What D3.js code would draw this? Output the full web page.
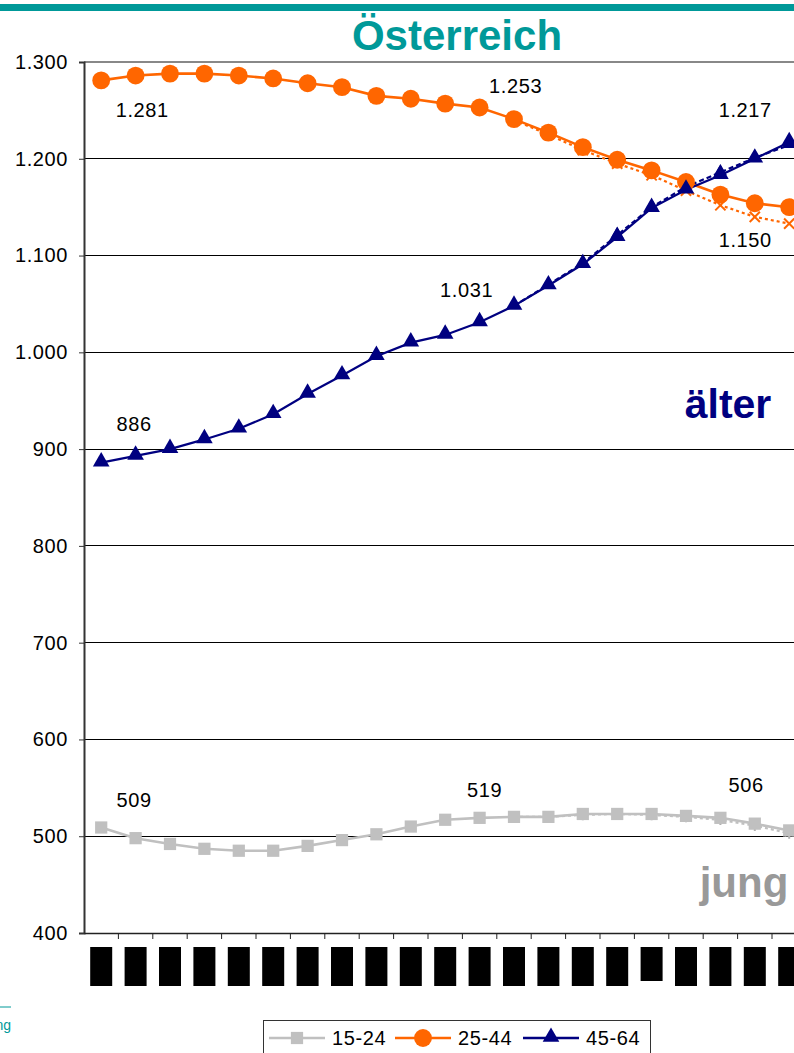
<!DOCTYPE html>
<html>
<head>
<meta charset="utf-8">
<script src="https://cdn.jsdelivr.net/npm/d3@7"></script>
<style>
  body { margin: 0; background: #fff; }
  svg { display: block; }
  text { font-family: "Liberation Sans", Arial, sans-serif; }
</style>
</head>
<body>
<svg id="chart" width="794" height="1053"></svg>
<script>
// Erwerbsbevölkerung nach Altersgruppen (in 1.000)
const years = ["2001","2002","2003","2004","2005","2006","2007","2008","2009","2010",
               "2011","2012","2013","2014","2015","2016","2017","2018","2019","2020","2021"];

const age15to24 = [509,498,492,487,485,485,490,496,502,510,517,519,520,520,523,523,523,521,519,513,506];
const age25to44 = [1281,1286,1288,1288,1286,1283,1278,1274,1265,1262,1257,1253,1241,1227,1212,1199,1188,1176,1163,1154,1150];
const age45to64 = [886,893,900,910,921,936,957,976,996,1010,1018,1031,1048,1069,1091,1119,1149,1168,1183,1200,1217];

// Variante (ab 2013)
const variantFrom = "2013";
const var15to24 = [520,520,522,523,522,520,517,511,503];
const var25to44 = [1240,1225,1209,1195,1183,1167,1152,1140,1133];
const var45to64 = [1048,1070,1092,1121,1150,1171,1186,1201,1214];

const yTicks = [400,500,600,700,800,900,1000,1100,1200,1300];
const seriesNames = ["15-24","25-44","45-64"];

// Beschriftete Werte: Reihe, Jahr
const labelled = [
  { s: 1, year: "2001", dx: 41,  dy: 37 },
  { s: 1, year: "2012", dx: 36,  dy: -14 },
  { s: 1, year: "2021", dx: -44, dy: 40 },
  { s: 2, year: "2001", dx: 33,  dy: -32 },
  { s: 2, year: "2012", dx: -13, dy: -25 },
  { s: 2, year: "2021", dx: -44, dy: -25 },
  { s: 0, year: "2001", dx: 33,  dy: -21 },
  { s: 0, year: "2012", dx: 5,   dy: -21 },
  { s: 0, year: "2021", dx: -43, dy: -38 }
];

const fmt = d3.formatLocale({ decimal: ",", thousands: ".", grouping: [3], currency: ["", " €"] }).format(",d");

const svg = d3.select("#chart");
const W = 794;

const x = d3.scaleBand().domain(years).range([84, 84 + 21 * 34.4]);
const y = d3.scaleLinear().domain([400, 1300]).range([933, 62]);
const cx = d => x(d) + x.bandwidth() / 2;

const teal = "#009999";
const colors = ["#c0c0c0", "#ff6600", "#000080"];

// Kopfzeile
svg.append("rect").attr("x", 0).attr("y", 4).attr("width", W).attr("height", 7).attr("fill", teal);
svg.append("text").attr("x", 457).attr("y", 50).attr("text-anchor", "middle")
  .attr("font-size", 42).attr("font-weight", "bold").attr("fill", teal).text("Österreich");

// Gitternetz
svg.append("g").selectAll("line").data(yTicks.filter(v => v > 400 && v < 1300)).join("line")
  .attr("x1", 84).attr("x2", W).attr("y1", d => y(d)).attr("y2", d => y(d))
  .attr("stroke", "#000").attr("stroke-width", 1).attr("shape-rendering", "crispEdges");
svg.append("line").attr("x1", 84).attr("x2", W).attr("y1", y(1300)).attr("y2", y(1300))
  .attr("stroke", "#888").attr("stroke-width", 2);

// Y-Achse
const yAxis = svg.append("g").attr("transform", "translate(84,0)")
  .call(d3.axisLeft(y).tickValues(yTicks).tickFormat(fmt).tickSize(5).tickPadding(11));
yAxis.select(".domain").attr("stroke", "#333").attr("stroke-width", 2);
yAxis.selectAll(".tick line").attr("stroke", "#333");
yAxis.selectAll("text").attr("font-size", 20).attr("fill", "#000")
  .attr("font-family", "Liberation Sans, Arial, sans-serif").attr("letter-spacing", 0.6);

// X-Achse
const xAxis = svg.append("g").attr("transform", "translate(0,933)")
  .call(d3.axisBottom(x).tickSize(0).tickFormat(""));
xAxis.select(".domain").attr("stroke", "#222").attr("stroke-width", 1.5);
svg.append("g").selectAll("line").data(years.slice(1)).join("line")
  .attr("x1", d => x(d)).attr("x2", d => x(d)).attr("y1", 933).attr("y2", 939)
  .attr("stroke", "#222").attr("stroke-width", 1);
// Jahresbeschriftungen (geschwärzt)
const xl = svg.append("g").selectAll("g").data(years).join("g")
  .attr("transform", d => `translate(${cx(d)},947)`);
xl.append("rect").attr("x", -11).attr("y", 0).attr("width", 22)
  .attr("height", (d, i) => i === 16 ? 34 : 39).attr("fill", "#000");

// Linien
const line = d3.line().x(d => cx(d.year)).y(d => y(d.v));
const primary = [age15to24, age25to44, age45to64].map(a => a.map((v, i) => ({ year: years[i], v })));
const vStart = years.indexOf(variantFrom);
const variant = [var15to24, var25to44, var45to64].map(a => a.map((v, i) => ({ year: years[vStart + i], v })));

// Variante gestrichelt, darunter liegend
const vg = svg.append("g");
variant.forEach((pts, s) => {
  vg.append("path").datum(pts).attr("d", line).attr("fill", "none")
    .attr("stroke", colors[s]).attr("stroke-width", 2.2)
    .attr("stroke-dasharray", s === 2 ? "5,3" : "3,3");
});
const xSym = d3.symbol().type(d3.symbolX).size(70);
vg.append("g").selectAll("path").data(variant[1]).join("path")
  .attr("d", xSym).attr("transform", d => `translate(${cx(d.year)},${y(d.v)})`)
  .attr("fill", "none").attr("stroke", colors[1]).attr("stroke-width", 2);
vg.append("g").selectAll("path").data(variant[0]).join("path")
  .attr("d", d3.symbol().type(d3.symbolAsterisk).size(80))
  .attr("transform", d => `translate(${cx(d.year)},${y(d.v)})`)
  .attr("fill", "none").attr("stroke", "#b0b0b0").attr("stroke-width", 2);
vg.append("g").selectAll("path").data(variant[2]).join("path")
  .attr("d", d3.symbol().type(d3.symbolTriangle).size(70))
  .attr("transform", d => `translate(${cx(d.year)},${y(d.v) - 1})`)
  .attr("fill", colors[2]);

// Hauptreihen
const pg = svg.append("g");
primary.forEach((pts, s) => {
  pg.append("path").datum(pts).attr("d", line).attr("fill", "none")
    .attr("stroke", colors[s]).attr("stroke-width", s === 2 ? 2.2 : 2.6);
});
const markerSym = [
  d3.symbol().type(d3.symbolSquare).size(150),
  d3.symbol().type(d3.symbolCircle).size(250),
  d3.symbol().type(d3.symbolTriangle).size(120)
];
primary.forEach((pts, s) => {
  pg.append("g").selectAll("path").data(pts).join("path")
    .attr("d", markerSym[s])
    .attr("transform", d => `translate(${cx(d.year)},${y(d.v) - (s === 2 ? 1 : 0)})`)
    .attr("fill", colors[s]);
});

// Werte
const series = [age15to24, age25to44, age45to64];
svg.append("g").selectAll("text").data(labelled).join("text")
  .attr("x", d => cx(d.year) + d.dx)
  .attr("y", d => y(series[d.s][years.indexOf(d.year)]) + d.dy)
  .attr("text-anchor", "middle").attr("font-size", 20).attr("letter-spacing", 0.6)
  .attr("fill", "#000")
  .text(d => fmt(series[d.s][years.indexOf(d.year)]));

// Kennzeichnungen
svg.append("text").attr("x", 728).attr("y", 418).attr("text-anchor", "middle")
  .attr("font-size", 41).attr("font-weight", "bold").attr("fill", "#000080").text("älter");
svg.append("text").attr("x", 744).attr("y", 897).attr("text-anchor", "middle")
  .attr("font-size", 42).attr("font-weight", "bold").attr("fill", "#999999").text("jung");

// Fußzeile
svg.append("line").attr("x1", 0).attr("x2", 11).attr("y1", 1007).attr("y2", 1007)
  .attr("stroke", teal).attr("stroke-width", 1);
svg.append("text").attr("x", 11).attr("y", 1030).attr("text-anchor", "end")
  .attr("font-size", 14).attr("fill", teal).text("Erwerbsbevölkerung");

// Legende
const lg = svg.append("g");
lg.append("rect").attr("x", 263.5).attr("y", 1020.5).attr("width", 387).attr("height", 60)
  .attr("fill", "#fff").attr("stroke", "#333").attr("stroke-width", 1);
const legendX = [269, 395, 523];
seriesNames.forEach((name, s) => {
  const g = lg.append("g").attr("transform", `translate(${legendX[s]},1038)`);
  g.append("line").attr("x1", 0).attr("x2", 56).attr("stroke", colors[s]).attr("stroke-width", 2.4);
  g.append("path").attr("d", markerSym[s]).attr("transform", `translate(28,${s === 2 ? -1 : 0})`).attr("fill", colors[s]);
  g.append("text").attr("x", 63).attr("y", 7).attr("font-size", 20).attr("letter-spacing", 0.6)
    .attr("fill", "#000").text(name);
});
</script>
</body>
</html>
